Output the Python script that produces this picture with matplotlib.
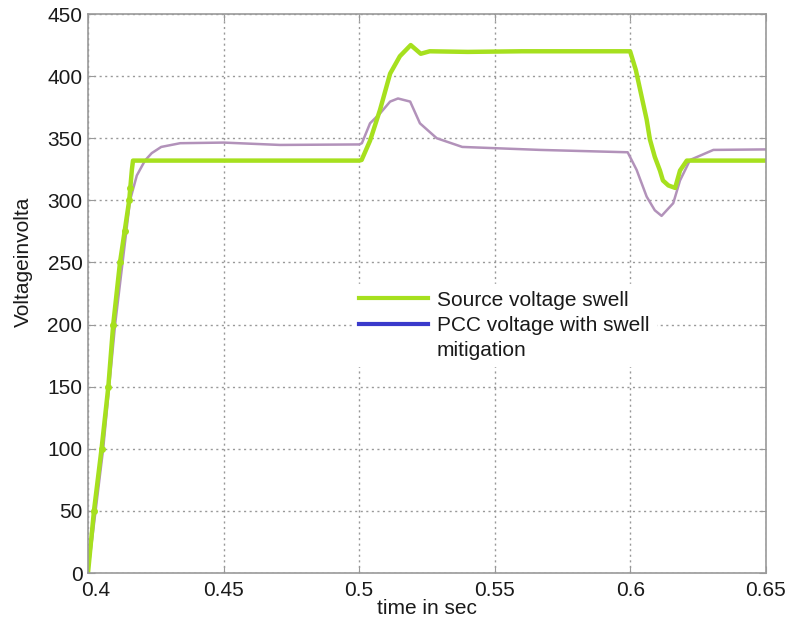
import matplotlib
matplotlib.use('Agg')
import matplotlib.pyplot as plt
from matplotlib.lines import Line2D
from matplotlib.transforms import ScaledTranslation

plt.rcParams['font.family'] = ['Liberation Sans', 'DejaVu Sans']

# source voltage (green)
src_t = [0.400, 0.4022, 0.4050, 0.4075, 0.4093, 0.4118, 0.4135, 0.4152, 0.4156,
         0.4162, 0.4166, 0.450, 0.500, 0.5009,
         0.5040, 0.5077, 0.5114, 0.5150, 0.5190, 0.5227, 0.5260, 0.540, 0.560,
         0.580, 0.5999, 0.6020, 0.6040, 0.6060, 0.6072, 0.6090, 0.6109, 0.6120,
         0.6140, 0.6165, 0.6183, 0.6208, 0.630, 0.650]
src_v = [0, 50, 100, 150, 200, 250, 275, 300, 310,
         325, 332, 332, 332, 332.5,
         348, 373, 402, 416, 425, 418, 420, 419.5, 420,
         420, 420, 405, 385, 365, 349, 335, 324, 316,
         312, 310, 324, 332, 332, 332]

# PCC voltage with swell mitigation (purple)
pcc_t = [0.400, 0.4056, 0.4100, 0.4155, 0.4180, 0.4210, 0.4235, 0.4270, 0.4340,
         0.450, 0.4708, 0.500, 0.5010, 0.5040, 0.5077, 0.5114, 0.5143, 0.5188,
         0.5224, 0.5286, 0.5380, 0.5667, 0.5990, 0.6023, 0.6060, 0.6090, 0.6115,
         0.6158, 0.6183, 0.6220, 0.6306, 0.650]
pcc_v = [0, 100, 200, 300, 320, 332, 338, 343, 346,
         346.5, 344.6, 345, 346, 362, 370, 379.5, 382, 379.5,
         362, 350, 343, 340.6, 338.7, 324.5, 303, 292, 287.5,
         297.7, 316, 332.5, 340.6, 341]

x_ticks = [0.4, 0.45, 0.5, 0.55, 0.6, 0.65]
x_labels = ['0.4', '0.45', '0.5', '0.55', '0.6', '0.65']
y_ticks = [0, 50, 100, 150, 200, 250, 300, 350, 400, 450]

green = '#a6e01e'
purple = '#b292ba'
blue = '#3a3acb'

fig = plt.figure(figsize=(7.87, 6.2), dpi=100)
ax = fig.add_axes([0.1118, 0.0758, 0.8615, 0.9016])

ax.plot(pcc_t, pcc_v, color=purple, linewidth=1.8)
ax.plot(src_t, src_v, color=green, linewidth=3.2, solid_joinstyle='round')
ax.plot(src_t[1:9], src_v[1:9], 'o', color=green, markersize=4)

ax.set_xlim(0.4, 0.65)
ax.set_ylim(0, 450)
ax.set_xticks(x_ticks)
ax.set_xticklabels(x_labels)
ax.set_yticks(y_ticks)
ax.grid(True, linestyle=(0, (1.5, 2.5)), color='#999999', linewidth=1.0)
ax.tick_params(direction='in', top=True, right=True, labelsize=15,
               colors='#999999', labelcolor='#1a1a1a', length=5)
ax.tick_params(axis='x', pad=6)
ax.tick_params(axis='y', pad=4)
for s in ax.spines.values():
    s.set_color('#999999')
    s.set_linewidth(1.2)

# nudge the first x label right so it clears the "0"
first = ax.get_xticklabels()[0]
first.set_transform(first.get_transform() + ScaledTranslation(0.08, 0, fig.dpi_scale_trans))

ax.set_xlabel('time in sec', fontsize=15, labelpad=-1, color='#1a1a1a')
ax.set_ylabel('Voltageinvolta', fontsize=15, color='#1a1a1a')
ax.yaxis.set_label_coords(-0.081, 0.556)

handles = [Line2D([], [], color=green, linewidth=3),
           Line2D([], [], color=blue, linewidth=3),
           Line2D([], [], color='none')]
labels = ['Source voltage swell', 'PCC voltage with swell', 'mitigation']
leg = ax.legend(handles, labels, loc='upper left', bbox_to_anchor=(0.375, 0.535),
                fontsize=15, handlelength=3.3, handletextpad=0.45,
                labelspacing=0.3, frameon=True, facecolor='white',
                edgecolor='white', framealpha=1, fancybox=False,
                borderpad=0.3)
for t in leg.get_texts():
    t.set_color('#1a1a1a')

fig.savefig('out.png', dpi=100)
